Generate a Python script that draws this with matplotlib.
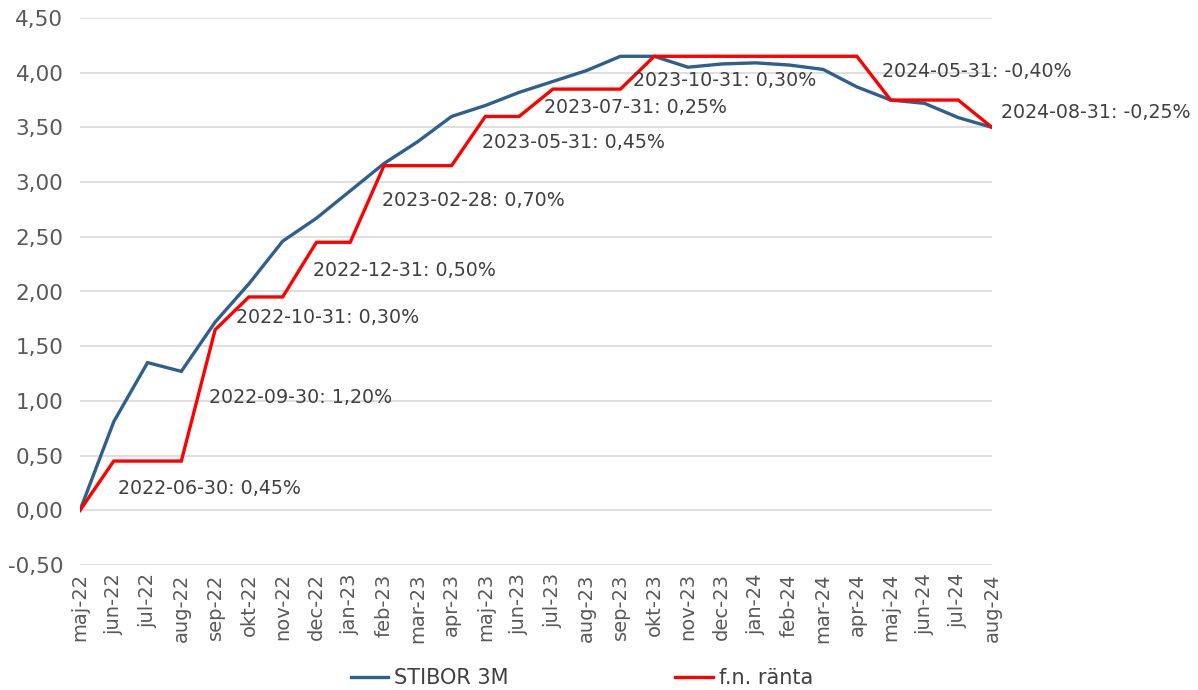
import matplotlib
matplotlib.use("Agg")
import matplotlib.pyplot as plt
from matplotlib.ticker import FuncFormatter

# ---------------------------------------------------------------------------
months = ["maj-22", "jun-22", "jul-22", "aug-22", "sep-22", "okt-22", "nov-22",
          "dec-22", "jan-23", "feb-23", "mar-23", "apr-23", "maj-23", "jun-23",
          "jul-23", "aug-23", "sep-23", "okt-23", "nov-23", "dec-23", "jan-24",
          "feb-24", "mar-24", "apr-24", "maj-24", "jun-24", "jul-24", "aug-24"]

stibor = [0.00, 0.81, 1.35, 1.27, 1.72, 2.07, 2.46, 2.67, 2.92, 3.17, 3.37,
          3.60, 3.70, 3.82, 3.92, 4.02, 4.15, 4.15, 4.05, 4.08, 4.09, 4.07,
          4.03, 3.87, 3.75, 3.72, 3.59, 3.50]

fn_ranta = [0.00, 0.45, 0.45, 0.45, 1.65, 1.95, 1.95, 2.45, 2.45, 3.15, 3.15,
            3.15, 3.60, 3.60, 3.85, 3.85, 3.85, 4.15, 4.15, 4.15, 4.15, 4.15,
            4.15, 4.15, 3.75, 3.75, 3.75, 3.50]

# rate-change labels and where they sit (data coords: month index, value)
change_labels = ["2022-06-30: 0,45%", "2022-09-30: 1,20%", "2022-10-31: 0,30%",
                 "2022-12-31: 0,50%", "2023-02-28: 0,70%", "2023-05-31: 0,45%",
                 "2023-07-31: 0,25%", "2023-10-31: 0,30%", "2024-05-31: -0,40%",
                 "2024-08-31: -0,25%"]
label_x = [1.12, 3.82, 4.62, 6.90, 8.94, 11.90, 13.74, 16.37, 23.74, 27.26]
label_y = [0.20, 1.03, 1.76, 2.19, 2.83, 3.36, 3.68, 3.93, 4.01, 3.64]

yticks = [-0.5, 0.0, 0.5, 1.0, 1.5, 2.0, 2.5, 3.0, 3.5, 4.0, 4.5]

BLUE = "#2f5f8c"
RED = "#ff0000"
TXT = "#404040"

fig = plt.figure(figsize=(11.98, 6.90), dpi=100)
ax = fig.add_axes([80 / 1198, 1 - 565 / 690, 912 / 1198, 547 / 690])

x = list(range(len(months)))
ax.plot(x, stibor, color=BLUE, lw=2.4, label="STIBOR 3M", solid_joinstyle="miter")
ax.plot(x, fn_ranta, color=RED, lw=2.4, label="f.n. ränta", solid_joinstyle="miter")

for txt, lx, ly in zip(change_labels, label_x, label_y):
    ax.text(lx, ly, txt, fontsize=13.7, color=TXT, ha="left", va="center",
            clip_on=False)

ax.set_xlim(0, len(months) - 1)
ax.set_ylim(-0.5, 4.5)
ax.set_yticks(yticks)
ax.yaxis.set_major_formatter(FuncFormatter(lambda v, _: f"{v:.2f}".replace(".", ",")))
ax.set_xticks(x)
ax.set_xticklabels(months, rotation=90)
ax.tick_params(axis="y", length=0, labelsize=15.5, labelcolor="#595959", pad=12)
ax.tick_params(axis="x", length=0, labelsize=14, labelcolor="#595959", pad=6)
ax.grid(axis="y", color="#d9d9d9", lw=1.2)
ax.set_axisbelow(True)
for s in ax.spines.values():
    s.set_visible(False)

fig.legend(loc="center", bbox_to_anchor=(582 / 1198, 1 - 678 / 690), ncol=2,
           frameon=False, fontsize=15, handlelength=1.8, columnspacing=8,
           handletextpad=0.3, labelcolor=TXT)

fig.savefig("out.png", dpi=100)
